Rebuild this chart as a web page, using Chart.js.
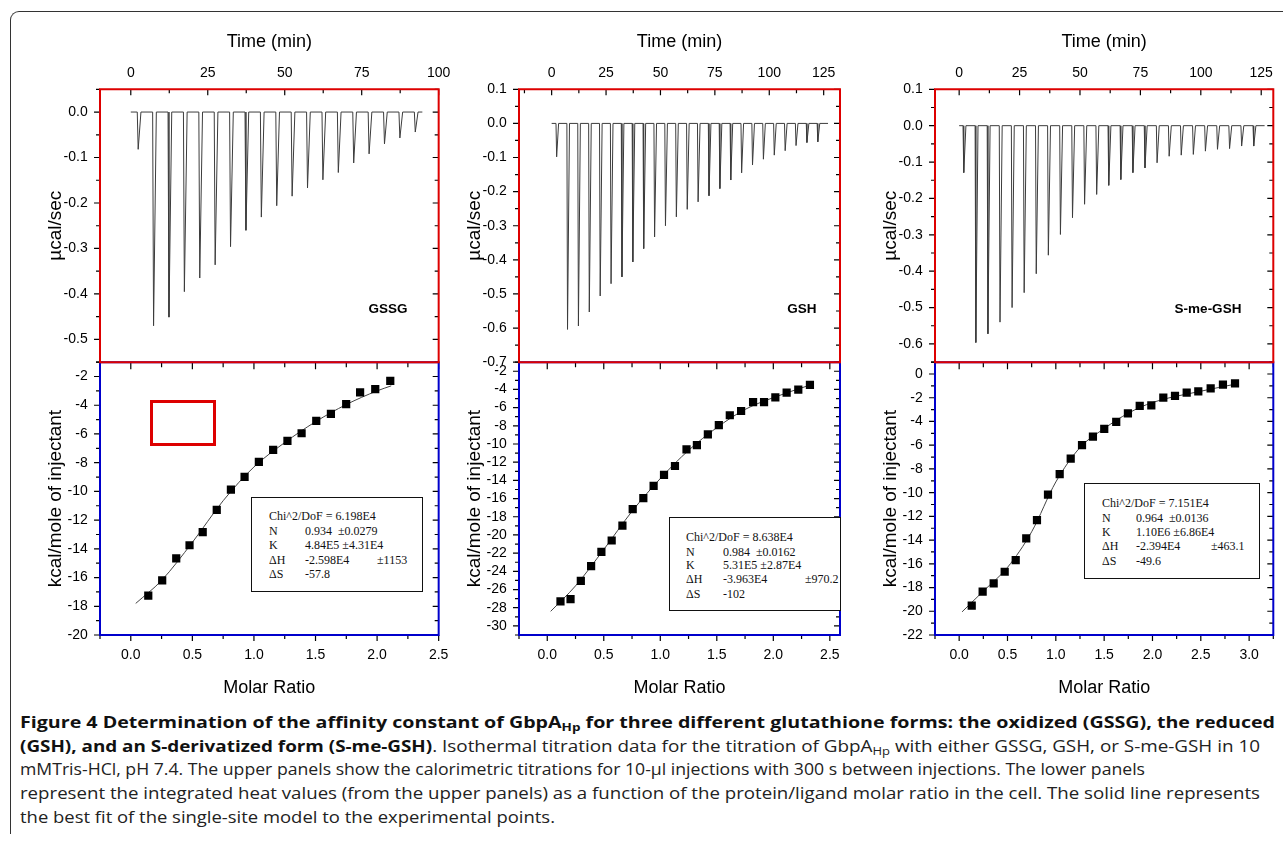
<!DOCTYPE html>
<html>
<head>
<meta charset="utf-8">
<title>Figure 4</title>
<script src="https://cdn.jsdelivr.net/npm/chart.js@4.4.0/dist/chart.umd.min.js"></script>
<style>
  html, body { margin: 0; padding: 0; background: #fff; }
  body { width: 1283px; height: 843px; position: relative; overflow: hidden; font-family: "Liberation Sans", Arial, sans-serif; }
  .frame { position: absolute; left: 10px; top: 11px; width: 1300px; height: 822px; border-top: 1.5px solid #333; border-left: 1.5px solid #333; border-top-left-radius: 9px; }
  canvas { position: absolute; }
  .testbox { position: absolute; border: 3px solid #d00; }
  .tag { position: absolute; font-weight: bold; font-size: 13.5px; transform: translate(-50%, -50%); white-space: nowrap; color: #000; }
  .fitbox { position: absolute; border: 1px solid #111; background: #fff; font-family: "Liberation Serif", "Times New Roman", serif; font-size: 12px; color: #111; z-index: 2; }
  .fitbox span { position: absolute; white-space: nowrap; line-height: 14px; transform: translateY(-50%); }
  .caption { position: absolute; left: 20px; top: 711px; font-family: "Open Sans", sans-serif; font-size: 16px; line-height: 23.7px; color: #222; }
  .caption div { white-space: nowrap; width: max-content; transform-origin: 0 50%; }
  .caption b { color: #111; }
  .caption sub { font-size: 11px; vertical-align: -3px; line-height: 0; }
</style>
</head>
<body>
<div class="frame"></div>

<canvas id="colGSSG"></canvas>
<canvas id="colGSH"></canvas>
<canvas id="colSME"></canvas>

<div class="testbox" style="left:150px;top:400px;width:60px;height:40px"></div>

<div class="tag" style="left:388px;top:308px">GSSG</div>
<div class="tag" style="left:802px;top:308px">GSH</div>
<div class="tag" style="left:1208px;top:308px">S-me-GSH</div>

<div class="fitbox" style="left:251px;top:497px;width:170px;height:93px">
  <span style="left:17px;top:18px">Chi^2/DoF = 6.198E4</span>
  <span style="left:17px;top:32.5px">N</span><span style="left:53px;top:32.5px">0.934&nbsp;&nbsp;±0.0279</span>
  <span style="left:17px;top:46.5px">K</span><span style="left:53px;top:46.5px">4.84E5 ±4.31E4</span>
  <span style="left:17px;top:61.5px">ΔH</span><span style="left:53px;top:61.5px">-2.598E4</span><span style="left:125px;top:61.5px">±1153</span>
  <span style="left:17px;top:76px">ΔS</span><span style="left:53px;top:76px">-57.8</span>
</div>
<div class="fitbox" style="left:669px;top:517px;width:170px;height:92px">
  <span style="left:16px;top:19px">Chi^2/DoF = 8.638E4</span>
  <span style="left:16px;top:33.5px">N</span><span style="left:53px;top:33.5px">0.984&nbsp;&nbsp;±0.0162</span>
  <span style="left:16px;top:47px">K</span><span style="left:53px;top:47px">5.31E5 ±2.87E4</span>
  <span style="left:16px;top:61px">ΔH</span><span style="left:53px;top:61px">-3.963E4</span><span style="left:135px;top:61px">±970.2</span>
  <span style="left:16px;top:76px">ΔS</span><span style="left:53px;top:76px">-102</span>
</div>
<div class="fitbox" style="left:1084px;top:483px;width:174px;height:94px">
  <span style="left:17px;top:19px">Chi^2/DoF = 7.151E4</span>
  <span style="left:17px;top:33.5px">N</span><span style="left:51px;top:33.5px">0.964&nbsp;&nbsp;±0.0136</span>
  <span style="left:17px;top:47.5px">K</span><span style="left:51px;top:47.5px">1.10E6 ±6.86E4</span>
  <span style="left:17px;top:62px">ΔH</span><span style="left:51px;top:62px">-2.394E4</span><span style="left:126px;top:62px">±463.1</span>
  <span style="left:17px;top:77px">ΔS</span><span style="left:51px;top:77px">-49.6</span>
</div>

<div class="caption">
  <div><b>Figure 4 Determination of the affinity constant of GbpA<sub>Hp</sub> for three different glutathione forms: the oxidized (GSSG), the reduced</b></div>
  <div><b>(GSH), and an S-derivatized form (S-me-GSH)</b>. Isothermal titration data for the titration of GbpA<sub>Hp</sub> with either GSSG, GSH, or S-me-GSH in 10</div>
  <div>mMTris-HCl, pH 7.4. The upper panels show the calorimetric titrations for 10-µl injections with 300 s between injections. The lower panels</div>
  <div>represent the integrated heat values (from the upper panels) as a function of the protein/ligand molar ratio in the cell. The solid line represents</div>
  <div>the best fit of the single-site model to the experimental points.</div>
</div>

<script>
// ---- valores ----

// GSSG
const gssgBaseline = [0, 94.7];
const gssgInjTime = [2.1, 7.1, 12.1, 17.1, 22.1, 27.1, 32.1, 37.1, 42.1, 47.1, 52.1, 57.1, 62.1, 67.1, 72.1, 77.1, 82.1, 87.1, 92.1];
const gssgInjPeak = [-0.082, -0.470, -0.451, -0.395, -0.365, -0.336, -0.296, -0.260, -0.231, -0.206, -0.185, -0.167, -0.149, -0.133, -0.112, -0.092, -0.070, -0.057, -0.044];
const gssgRatio = [0.142, 0.255, 0.369, 0.477, 0.584, 0.698, 0.813, 0.924, 1.040, 1.156, 1.272, 1.387, 1.506, 1.625, 1.749, 1.862, 1.985, 2.107];
const gssgHeat = [-17.26, -16.19, -14.66, -13.75, -12.84, -11.29, -9.87, -8.99, -7.94, -7.11, -6.48, -5.95, -5.09, -4.60, -3.92, -3.11, -2.88, -2.30];
const gssgFitRatio = [0.04, 0.25, 0.5, 0.75, 1.0, 1.25, 1.5, 1.75, 2.0, 2.115];
const gssgFitHeat = [-17.8, -16.2, -13.55, -10.65, -8.3, -6.6, -5.15, -3.95, -3.0, -2.65];
const gssgTimeTicks = [0, 25, 50, 75, 100];
const gssgPowerTicks = [0, -0.1, -0.2, -0.3, -0.4, -0.5];
const gssgHeatTicks = [-2, -4, -6, -8, -10, -12, -14, -16, -18, -20];
const gssgRatioTicks = [0, 0.5, 1, 1.5, 2, 2.5];

// GSH
const gshBaseline = [0, 127];
const gshInjTime = [2, 7, 12, 17, 22, 27, 32, 37, 42, 47, 52, 57, 62, 67, 72, 77, 82, 87, 92, 97, 102, 107, 112, 117, 122];
const gshInjPeak = [-0.098, -0.604, -0.594, -0.553, -0.506, -0.470, -0.450, -0.406, -0.367, -0.333, -0.300, -0.274, -0.252, -0.230, -0.212, -0.191, -0.166, -0.145, -0.122, -0.105, -0.093, -0.080, -0.065, -0.056, -0.054];
const gshRatio = [0.117, 0.206, 0.297, 0.388, 0.479, 0.570, 0.665, 0.756, 0.850, 0.941, 1.033, 1.130, 1.232, 1.324, 1.421, 1.518, 1.615, 1.715, 1.821, 1.918, 2.018, 2.118, 2.221, 2.324];
const gshHeat = [-27.31, -27.06, -25.06, -23.42, -21.85, -20.61, -18.97, -17.15, -15.95, -14.60, -13.40, -12.42, -10.59, -10.12, -8.95, -7.93, -6.84, -6.37, -5.39, -5.39, -4.87, -4.36, -4.03, -3.49];
const gshFitRatio = [0.03, 0.25, 0.5, 0.75, 1.0, 1.25, 1.5, 1.75, 2.0, 2.33];
const gshFitHeat = [-28.4, -25.6, -21.6, -17.4, -13.8, -10.7, -8.2, -6.2, -4.9, -3.5];
const gshTimeTicks = [0, 25, 50, 75, 100, 125];
const gshPowerTicks = [0.1, 0, -0.1, -0.2, -0.3, -0.4, -0.5, -0.6, -0.7];
const gshHeatTicks = [-2, -4, -6, -8, -10, -12, -14, -16, -18, -20, -22, -24, -26, -28, -30];
const gshRatioTicks = [0, 0.5, 1, 1.5, 2, 2.5];

// S-me-GSH
const smeBaseline = [0, 126.4];
const smeInjTime = [1.6, 6.6, 11.6, 16.6, 21.6, 26.6, 31.6, 36.6, 41.6, 46.6, 51.6, 56.6, 61.6, 66.6, 71.6, 76.6, 81.6, 86.6, 91.6, 96.6, 101.6, 106.6, 111.6, 116.6, 121.6];
const smeInjPeak = [-0.129, -0.596, -0.572, -0.540, -0.500, -0.459, -0.407, -0.356, -0.299, -0.253, -0.216, -0.189, -0.164, -0.148, -0.129, -0.116, -0.102, -0.084, -0.081, -0.079, -0.070, -0.065, -0.063, -0.056, -0.056];
const smeRatio = [0.130, 0.243, 0.357, 0.471, 0.585, 0.694, 0.805, 0.919, 1.040, 1.154, 1.271, 1.384, 1.501, 1.625, 1.746, 1.868, 1.988, 2.112, 2.233, 2.354, 2.474, 2.602, 2.729, 2.854];
const smeHeat = [-19.53, -18.35, -17.65, -16.67, -15.68, -13.86, -12.32, -10.16, -8.44, -7.13, -6.00, -5.27, -4.63, -4.04, -3.31, -2.69, -2.64, -1.99, -1.85, -1.57, -1.46, -1.21, -0.90, -0.79];
const smeFitRatio = [0.03, 0.25, 0.5, 0.75, 1.0, 1.25, 1.5, 1.75, 2.0, 2.5, 2.86];
const smeFitHeat = [-20.05, -18.3, -16.3, -13.3, -9.1, -6.2, -4.6, -3.3, -2.4, -1.45, -0.85];
const smeTimeTicks = [0, 25, 50, 75, 100, 125];
const smePowerTicks = [0.1, 0, -0.1, -0.2, -0.3, -0.4, -0.5, -0.6];
const smeHeatTicks = [0, -2, -4, -6, -8, -10, -12, -14, -16, -18, -20, -22];
const smeRatioTicks = [0, 0.5, 1, 1.5, 2, 2.5, 3];

// ---- dibujo ----

const tickFont = { family: 'Liberation Sans', size: 14 };
const xTitleFont = { family: 'Liberation Sans', size: 18 };
const yTitleFont = { family: 'Liberation Sans', size: 19 };
const PANEL_H = 272.85;

function tickSteps(lo, hi, step) {
    const out = [];
    const k0 = Math.ceil(lo / step[1] - 1e-6);
    const k1 = Math.floor(hi / step[1] + 1e-6);
    for (let k = k0; k <= k1; k++) {
        const v = k * step[1];
        const r = v / step[0];
        out.push([v, Math.abs(r - Math.round(r)) < 1e-6]);
    }
    return out;
}

// marco y marcas de los ejes como series (unidades de datos)
function frameData(p) {
    const W = p.right - p.left;
    const t0 = p.timeRange[0], t1 = p.timeRange[1];
    const r0 = p.ratioRange[0], r1 = p.ratioRange[1];
    const w0 = p.powerRange[0], w1 = p.powerRange[1];
    const h0 = p.heatRange[0], h1 = p.heatRange[1];
    const tx = (t1 - t0) / W, rx = (r1 - r0) / W;
    const wy = (w1 - w0) / PANEL_H, hy = (h1 - h0) / PANEL_H;

    const upperBox = [{ x: t0, y: w0 }, { x: t1, y: w0 }, { x: t1, y: w1 }, { x: t0, y: w1 }, { x: t0, y: w0 }, { x: t1, y: w0 }];
    const lowerBox = [{ x: r0, y: h0 }, { x: r1, y: h0 }, { x: r1, y: h1 }, { x: r0, y: h1 }, { x: r0, y: h0 }, { x: r1, y: h0 }];
    const upperTicks = [];
    const lowerTicks = [];

    tickSteps(t0, t1, [25, 12.5]).forEach(function (s) {
        const len = (s[1] ? 6 : 4) * wy;
        upperTicks.push({ x: s[0], y: w1 }, { x: s[0], y: w1 - len }, { x: s[0], y: null });
    });
    tickSteps(w0, w1, [0.1, 0.05]).forEach(function (s) {
        const len = (s[1] ? 6 : 4) * tx;
        upperTicks.push({ x: t0, y: s[0] }, { x: t0 - len, y: s[0] }, { x: t0, y: null });
        upperTicks.push({ x: t1, y: s[0] }, { x: t1 - len, y: s[0] }, { x: t1, y: null });
    });
    tickSteps(r0, r1, [0.5, 0.25]).forEach(function (s) {
        lowerTicks.push({ x: s[0], y: h1 }, { x: s[0], y: h1 - (s[1] ? 7 : 5) * hy }, { x: s[0], y: null });
        lowerTicks.push({ x: s[0], y: h0 }, { x: s[0], y: h0 - (s[1] ? 6 : 4) * hy }, { x: s[0], y: null });
    });
    tickSteps(h0, h1, [2, 1]).forEach(function (s) {
        const len = (s[1] ? 6 : 4) * rx;
        lowerTicks.push({ x: r0, y: s[0] }, { x: r0 - len, y: s[0] }, { x: r0, y: null });
        lowerTicks.push({ x: r1, y: s[0] }, { x: r1 - len, y: s[0] }, { x: r1, y: null });
    });
    return { upperBox: upperBox, lowerBox: lowerBox, upperTicks: upperTicks, lowerTicks: lowerTicks };
}

function thermogram(base, times, peaks) {
    const pts = [{ x: base[0], y: 0 }];
    for (let i = 0; i < times.length; i++) {
        pts.push({ x: times[i], y: 0 }, { x: times[i] + 0.3, y: peaks[i] }, { x: times[i] + 1.2, y: 0 });
    }
    pts.push({ x: base[1], y: 0 });
    return pts;
}

function pairs(xs, ys) {
    return xs.map((x, i) => ({ x: x, y: ys[i] }));
}

function fixedSize(size) {
    return function (scale) {
        if (scale.isHorizontal()) scale.height = size;
        else scale.width = size;
    };
}

function useTicks(values) {
    return function (scale) {
        scale.ticks = values.map(v => ({ value: v }));
    };
}

function axis(pos, range, ticks, fmt, pad, extra) {
    return Object.assign({
        type: 'linear',
        position: pos,
        min: range[0],
        max: range[1],
        afterBuildTicks: useTicks(ticks),
        grid: { display: false, drawTicks: false },
        border: { display: false },
        ticks: { font: tickFont, color: '#000', autoSkip: false, maxRotation: 0, minRotation: 0, padding: pad, callback: fmt }
    }, extra);
}

function frameSet(data, x, y, width, color) {
    return {
        data: data, xAxisID: x, yAxisID: y,
        showLine: true, pointRadius: 0, clip: false,
        borderColor: color, borderWidth: width, spanGaps: false
    };
}

function makeColumn(id, p) {
    const el = document.getElementById(id);
    const plotW = p.right - p.left;
    const ox = p.left - 80;
    el.style.left = ox + 'px';
    el.style.top = '20px';
    el.width = Math.round(80 + plotW + p.padRight);
    el.height = 690;

    const yTitle = (text) => ({ display: true, text: text, font: yTitleFont, color: '#000', padding: { top: 24.8, bottom: 0 } });

    const yl = axis('left', p.heatRange, p.heatTicks, v => String(v), 12.3,
        { stack: 'col', stackWeight: 1, afterFit: fixedSize(80), title: yTitle('kcal/mole of injectant') });
    const yu = axis('left', p.powerRange, p.powerTicks, v => v.toFixed(1), 12.3,
        { stack: 'col', stackWeight: 1, afterFit: fixedSize(80), title: yTitle('µcal/sec') });
    const xt = axis('top', p.timeRange, p.timeTicks, v => String(v), 8.2,
        { afterFit: fixedSize(69.3), title: { display: true, text: 'Time (min)', font: xTitleFont, color: '#000', padding: { top: 10.9, bottom: 0 } } });
    const xr = axis('bottom', p.ratioRange, p.ratioTicks, v => v.toFixed(1), 11.6,
        { afterFit: fixedSize(75), title: { display: true, text: 'Molar Ratio', font: xTitleFont, color: '#000', padding: { top: 0, bottom: 11.2 } } });

    const f = frameData(p);

    new Chart(el, {
        type: 'scatter',
        data: {
            datasets: [{
                data: pairs(p.ratio, p.heat),
                xAxisID: 'xr', yAxisID: 'yl',
                pointStyle: 'rect', pointRadius: 5.8,
                backgroundColor: '#000', borderWidth: 0
            }, {
                data: pairs(p.fitRatio, p.fitHeat),
                xAxisID: 'xr', yAxisID: 'yl',
                showLine: true, pointRadius: 0,
                borderColor: '#444', borderWidth: 1,
                cubicInterpolationMode: 'monotone'
            }, {
                data: thermogram(p.baseline, p.injTime, p.injPeak),
                xAxisID: 'xt', yAxisID: 'yu',
                showLine: true, pointRadius: 0,
                borderColor: '#3c3c3c', borderWidth: 1
            },
            frameSet(f.upperBox, 'xt', 'yu', 2, '#d00'),
            frameSet(f.lowerBox, 'xr', 'yl', 2, '#00c'),
            frameSet(f.upperTicks, 'xt', 'yu', 1.2, '#000'),
            frameSet(f.lowerTicks, 'xr', 'yl', 1.2, '#000')]
        },
        options: {
            responsive: false,
            animation: false,
            devicePixelRatio: 1,
            layout: { padding: { left: 0, top: 0, right: p.padRight, bottom: 0 } },
            scales: { xt: xt, xr: xr, yl: yl, yu: yu },
            plugins: {
                legend: { display: false },
                tooltip: { enabled: false }
            }
        }
    });
}

makeColumn('colGSSG', {
    left: 100, right: 440, padRight: 20,
    timeRange: [-10, 100], powerRange: [-0.55, 0.05], heatRange: [-20, -1], ratioRange: [-0.25, 2.5],
    timeTicks: gssgTimeTicks, powerTicks: gssgPowerTicks, heatTicks: gssgHeatTicks, ratioTicks: gssgRatioTicks,
    baseline: gssgBaseline, injTime: gssgInjTime, injPeak: gssgInjPeak,
    ratio: gssgRatio, heat: gssgHeat, fitRatio: gssgFitRatio, fitHeat: gssgFitHeat
});

makeColumn('colGSH', {
    left: 519, right: 840, padRight: 20,
    timeRange: [-15, 132.5], powerRange: [-0.7, 0.1], heatRange: [-31, -1], ratioRange: [-0.25, 2.59],
    timeTicks: gshTimeTicks, powerTicks: gshPowerTicks, heatTicks: gshHeatTicks, ratioTicks: gshRatioTicks,
    baseline: gshBaseline, injTime: gshInjTime, injPeak: gshInjPeak,
    ratio: gshRatio, heat: gshHeat, fitRatio: gshFitRatio, fitHeat: gshFitHeat
});

makeColumn('colSME', {
    left: 935, right: 1273.3, padRight: 9.7,
    timeRange: [-10, 130], powerRange: [-0.65, 0.1], heatRange: [-22, 1], ratioRange: [-0.25, 3.25],
    timeTicks: smeTimeTicks, powerTicks: smePowerTicks, heatTicks: smeHeatTicks, ratioTicks: smeRatioTicks,
    baseline: smeBaseline, injTime: smeInjTime, injPeak: smeInjPeak,
    ratio: smeRatio, heat: smeHeat, fitRatio: smeFitRatio, fitHeat: smeFitHeat
});

// ajustar el ancho de cada línea del pie de figura
const captionWidths = [1255, 1240, 1125, 1240, 535];
document.querySelectorAll('.caption div').forEach(function (d, i) {
    const w = d.getBoundingClientRect().width;
    d.style.transform = 'scaleX(' + (captionWidths[i] / w).toFixed(4) + ')';
});
</script>
</body>
</html>
